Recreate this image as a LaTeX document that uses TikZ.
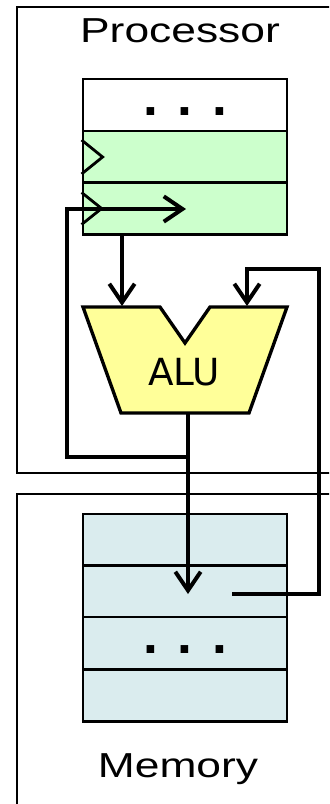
\documentclass[tikz,border=0pt]{standalone}
\usepackage{fontspec}
\setmainfont{Liberation Sans}
\newfontfamily\alufont{DejaVu Sans}
\usetikzlibrary{arrows.meta}
\definecolor{regfill}{HTML}{CCFFCC}
\definecolor{alufill}{HTML}{FFFF99}
\definecolor{memfill}{HTML}{DAECEE}
\begin{document}
\begin{tikzpicture}[x=0.75pt,y=-0.75pt,
		unitbox/.style={draw,line width=1.6pt},
		cell/.style={draw,line width=2.1pt,minimum width=153pt,minimum height=39pt,inner sep=0pt},
		wire/.style={line width=3pt},
		arr/.style={wire,-{Straight Barb[length=14pt,width=19pt]}},
		clk/.style={line width=2.1pt},
		boxtitle/.style={font=\fontsize{26}{30}\selectfont,inner sep=0pt,xscale=1.28,anchor=base},
		dots/.style={font=\fontsize{40}{44}\selectfont\bfseries,inner sep=0pt,anchor=base}]
			\clip (0,0) rectangle (329,804);
			% processor and memory
			\draw[unitbox] (17,7) rectangle (345,473);
			\draw[unitbox] (17,494) rectangle (345,820);
			\node[boxtitle] (proc) at (180,42) {Processor};
			\node[boxtitle] (mem) at (178,777) {Memory};
			% registers
			\node[cell,fill=white] (reg1) at (185,105) {};
			\node[cell,fill=regfill] (reg2) at (185,157) {};
			\node[cell,fill=regfill] (reg3) at (185,208.5) {};
			\node[dots] (rdots) at (185,115) {. . .};
			\draw[clk] (reg2.west) ++(0,-17) -- ++(21,17) -- ++(-21,17);
			\draw[clk] (reg3.west) ++(0,-16) -- ++(20,16) -- ++(-20,16);
			% memory cells
			\node[cell,fill=memfill] (m1) at (185,540) {};
			\node[cell,fill=memfill] (m2) at (185,591.5) {};
			\node[cell,fill=memfill] (m3) at (185,643) {};
			\node[cell,fill=memfill] (m4) at (185,695.5) {};
			\node[dots] (mdots) at (185,653) {. . .};
			% alu
			\draw[line width=2.5pt,fill=alufill] (83,307) -- (160,307) -- (185,343) -- (210,307) -- (287,307) -- (249,413) -- (121,413) -- cycle;
			\node[font=\alufont\fontsize{28}{32}\selectfont,inner sep=0pt,anchor=base] (alu) at (184,385) {ALU};
			\coordinate (aluA) at (122,306);
			\coordinate (aluB) at (247,306);
			\coordinate (aluOut) at (188,414);
			\coordinate (fork) at (188,457);
			\coordinate (memIn) at (188,594);
			\coordinate (memOut) at (232,594);
			\coordinate (regIn) at (186,209);
			% wires
			\draw[arr] (reg3.south -| aluA) -- (aluA);
			\draw[arr] (aluOut) -- (memIn);
			\draw[arr] (fork) -- ++(-121,0) |- (regIn);
			\draw[arr] (memOut) -- ++(87,0) -- ++(0,-325) -| (aluB);
		\end{tikzpicture}
\end{document}
